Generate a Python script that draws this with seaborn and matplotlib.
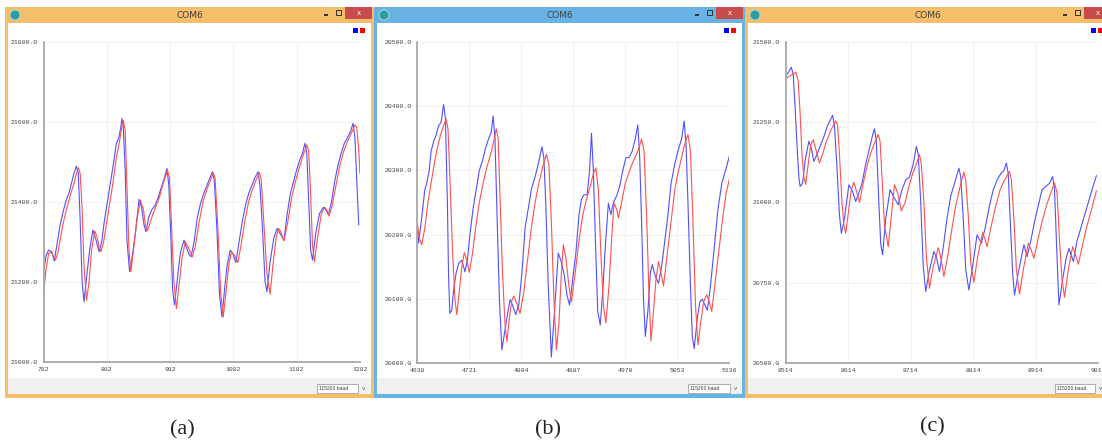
import matplotlib
matplotlib.use("Agg")
import matplotlib.pyplot as plt
from matplotlib.patches import Rectangle, Ellipse
import seaborn as sns

# ---------------- data ----------------
# panel (a)
a_x_blue = [782, 786, 790, 795, 799, 803, 808, 813, 818, 822, 826, 830, 834, 837, 840, 843, 846, 850, 855, 860,
            864, 868, 870, 874, 878, 883, 888, 893, 897, 901, 904, 906, 908, 911, 914, 918, 922, 927, 933, 937,
            941, 944, 948, 953, 958, 963, 968, 973, 977, 980, 983, 986, 989, 993, 998, 1004, 1008, 1012, 1015, 1020,
            1025, 1030, 1035, 1040, 1045, 1049, 1052, 1056, 1060, 1064, 1068, 1072, 1077, 1081, 1086, 1091, 1096, 1101, 1106, 1111,
            1116, 1121, 1124, 1128, 1132, 1135, 1140, 1146, 1151, 1156, 1162, 1167, 1172, 1177, 1182, 1187, 1191, 1195, 1198, 1201,
            1204, 1207, 1212, 1218, 1224, 1228, 1232, 1237, 1242, 1247, 1252, 1257, 1262, 1267, 1271, 1274, 1277, 1280]
a_y_blue = [21221, 21265, 21279, 21275, 21252, 21290, 21340, 21375, 21405, 21420, 21445, 21470, 21489, 21470, 21350, 21200, 21150, 21210, 21280, 21329,
            21310, 21285, 21275, 21300, 21350, 21400, 21450, 21500, 21545, 21560, 21585, 21608, 21590, 21480, 21300, 21225, 21260, 21320, 21406, 21385,
            21340, 21325, 21360, 21380, 21390, 21410, 21435, 21460, 21483, 21440, 21320, 21180, 21142, 21200, 21270, 21304, 21285, 21268, 21262, 21300,
            21360, 21395, 21420, 21440, 21460, 21475, 21450, 21330, 21170, 21112, 21180, 21240, 21279, 21270, 21248, 21300, 21350, 21390, 21420, 21440,
            21460, 21475, 21440, 21330, 21200, 21175, 21250, 21310, 21333, 21320, 21304, 21370, 21420, 21450, 21480, 21505, 21520, 21546, 21520, 21400,
            21280, 21254, 21320, 21370, 21386, 21380, 21367, 21400, 21450, 21490, 21520, 21545, 21560, 21575, 21596, 21560, 21450, 21342]
a_x_red = [782, 786, 790, 794, 798, 801, 805, 810, 815, 820, 825, 830, 834, 837, 840, 843, 846, 850, 854, 858,
           863, 867, 870, 873, 877, 882, 887, 892, 897, 902, 906, 908, 911, 914, 917, 920, 925, 930, 935, 940,
           943, 946, 950, 955, 960, 965, 970, 975, 978, 981, 984, 988, 992, 996, 1001, 1006, 1011, 1017, 1022, 1028,
           1034, 1040, 1046, 1050, 1053, 1057, 1062, 1066, 1070, 1075, 1079, 1084, 1089, 1094, 1100, 1106, 1112, 1118, 1123, 1126,
           1130, 1135, 1140, 1145, 1150, 1154, 1158, 1162, 1168, 1174, 1180, 1186, 1192, 1198, 1201, 1204, 1207, 1210, 1215, 1221,
           1226, 1230, 1233, 1238, 1244, 1250, 1256, 1262, 1268, 1274, 1277, 1280, 1282]
a_y_red = [21171, 21230, 21270, 21275, 21262, 21254, 21275, 21320, 21360, 21390, 21420, 21445, 21470, 21485, 21470, 21380, 21240, 21154, 21200, 21280,
           21327, 21310, 21285, 21275, 21300, 21350, 21400, 21450, 21510, 21550, 21590, 21603, 21580, 21430, 21280, 21225, 21290, 21360, 21404, 21380,
           21340, 21327, 21345, 21370, 21390, 21410, 21440, 21465, 21478, 21460, 21350, 21200, 21133, 21190, 21260, 21300, 21285, 21262, 21290, 21350,
           21400, 21430, 21455, 21472, 21460, 21350, 21170, 21112, 21170, 21245, 21275, 21265, 21248, 21290, 21350, 21400, 21430, 21455, 21473, 21455,
           21350, 21220, 21169, 21250, 21315, 21333, 21320, 21302, 21350, 21410, 21450, 21485, 21515, 21542, 21525, 21420, 21290, 21250, 21310, 21370,
           21386, 21378, 21364, 21390, 21440, 21490, 21525, 21550, 21570, 21592, 21585, 21530, 21470]
a_xticks = [782, 882, 982, 1082, 1182, 1282]
a_yticks = [21000, 21200, 21400, 21600, 21800]

# panel (b)
b_x_blue = [4638, 4640, 4643, 4646, 4650, 4653, 4657, 4660, 4664, 4668, 4672, 4676, 4680, 4683, 4686, 4688, 4690, 4693, 4696, 4700,
            4704, 4709, 4714, 4718, 4722, 4727, 4732, 4737, 4742, 4747, 4752, 4756, 4759, 4762, 4765, 4769, 4773, 4777, 4781, 4786,
            4790, 4795, 4800, 4805, 4810, 4815, 4820, 4826, 4831, 4837, 4840, 4843, 4847, 4852, 4857, 4863, 4867, 4872, 4877, 4881,
            4886, 4891, 4896, 4900, 4904, 4909, 4913, 4916, 4919, 4922, 4926, 4930, 4934, 4938, 4943, 4947, 4951, 4956, 4961, 4966,
            4971, 4976, 4981, 4986, 4990, 4993, 4996, 4999, 5002, 5006, 5010, 5013, 5018, 5023, 5028, 5033, 5038, 5043, 5049, 5054,
            5060, 5064, 5067, 5070, 5074, 5077, 5080, 5085, 5089, 5093, 5097, 5101, 5106, 5112, 5118, 5124, 5130, 5136]
b_y_blue = [20218, 20187, 20210, 20235, 20270, 20280, 20300, 20330, 20345, 20355, 20370, 20375, 20403, 20380, 20250, 20130, 20077, 20082, 20114, 20140,
            20155, 20160, 20142, 20160, 20200, 20240, 20270, 20300, 20315, 20335, 20350, 20360, 20385, 20350, 20240, 20100, 20020, 20045, 20070, 20098,
            20090, 20075, 20090, 20140, 20210, 20240, 20270, 20290, 20310, 20337, 20320, 20250, 20120, 20009, 20080, 20171, 20160, 20140, 20105, 20090,
            20130, 20170, 20230, 20255, 20262, 20262, 20300, 20358, 20300, 20200, 20080, 20059, 20110, 20180, 20249, 20231, 20250, 20260, 20275, 20300,
            20320, 20320, 20330, 20350, 20371, 20320, 20220, 20100, 20041, 20080, 20140, 20153, 20135, 20124, 20150, 20190, 20230, 20280, 20310, 20330,
            20350, 20377, 20340, 20250, 20120, 20040, 20022, 20070, 20095, 20099, 20090, 20082, 20120, 20180, 20240, 20280, 20300, 20322]
b_x_red = [4638, 4641, 4645, 4650, 4655, 4660, 4665, 4670, 4675, 4680, 4684, 4687, 4690, 4694, 4698, 4701, 4705, 4709, 4713, 4717,
           4721, 4726, 4731, 4737, 4743, 4749, 4755, 4760, 4764, 4767, 4770, 4774, 4778, 4781, 4785, 4789, 4792, 4797, 4802, 4808,
           4814, 4820, 4826, 4832, 4838, 4844, 4848, 4852, 4856, 4860, 4864, 4868, 4871, 4875, 4880, 4884, 4890, 4896, 4902, 4908,
           4914, 4919, 4923, 4927, 4931, 4935, 4939, 4944, 4948, 4952, 4956, 4959, 4964, 4970, 4977, 4983, 4990, 4996, 5000, 5004,
           5008, 5011, 5015, 5019, 5023, 5027, 5031, 5037, 5043, 5049, 5055, 5061, 5066, 5070, 5074, 5078, 5082, 5086, 5090, 5095,
           5100, 5104, 5108, 5114, 5120, 5126, 5131, 5137]
b_y_red = [20218, 20195, 20184, 20210, 20250, 20280, 20310, 20335, 20355, 20370, 20380, 20365, 20290, 20180, 20100, 20075, 20110, 20150, 20172, 20160,
           20141, 20170, 20210, 20250, 20280, 20305, 20325, 20345, 20365, 20350, 20260, 20140, 20060, 20033, 20070, 20098, 20104, 20092, 20077, 20110,
           20160, 20210, 20250, 20280, 20305, 20325, 20310, 20220, 20100, 20020, 20060, 20140, 20184, 20165, 20120, 20095, 20140, 20190, 20230, 20255,
           20275, 20295, 20304, 20270, 20170, 20090, 20062, 20120, 20190, 20249, 20240, 20226, 20250, 20280, 20300, 20315, 20330, 20349, 20330, 20230,
           20100, 20034, 20080, 20130, 20158, 20140, 20120, 20170, 20220, 20270, 20300, 20325, 20345, 20356, 20330, 20220, 20090, 20028, 20060, 20095,
           20106, 20095, 20080, 20130, 20180, 20230, 20265, 20290]
b_xticks = [4638, 4721, 4804, 4887, 4970, 5053, 5136]
b_yticks = [20000, 20100, 20200, 20300, 20400, 20500]

# panel (c)
c_x_blue = [8514, 8518, 8523, 8526, 8529, 8532, 8535, 8537, 8541, 8545, 8551, 8555, 8559, 8564, 8570, 8576, 8581, 8586, 8589, 8592,
            8596, 8600, 8603, 8608, 8615, 8620, 8626, 8631, 8636, 8642, 8648, 8653, 8656, 8659, 8663, 8666, 8669, 8674, 8681, 8686,
            8694, 8700, 8706, 8712, 8718, 8723, 8726, 8730, 8734, 8738, 8743, 8751, 8755, 8760, 8766, 8772, 8778, 8784, 8791, 8794,
            8798, 8802, 8807, 8813, 8820, 8827, 8833, 8840, 8846, 8852, 8858, 8863, 8867, 8870, 8873, 8877, 8880, 8886, 8895, 8900,
            8906, 8912, 8918, 8924, 8930, 8936, 8941, 8944, 8947, 8951, 8957, 8962, 8967, 8974, 8980, 8986, 8992, 8998, 9004, 9011]
c_y_blue = [21394, 21405, 21422, 21400, 21300, 21180, 21080, 21050, 21060, 21130, 21191, 21170, 21128, 21150, 21180, 21210, 21240, 21260, 21272, 21240,
            21110, 20960, 20904, 20950, 21055, 21040, 21003, 21030, 21060, 21120, 21170, 21210, 21230, 21190, 21000, 20870, 20837, 20950, 21040, 21020,
            20993, 21040, 21070, 21080, 21120, 21175, 21150, 21000, 20800, 20722, 20780, 20847, 20830, 20784, 20860, 20950, 21020, 21060, 21107, 21080,
            20950, 20790, 20727, 20800, 20899, 20873, 20920, 20990, 21040, 21070, 21090, 21100, 21123, 21090, 20950, 20780, 20711, 20780, 20868, 20831,
            20880, 20940, 20990, 21040, 21050, 21060, 21081, 21040, 20880, 20680, 20760, 20820, 20857, 20816, 20880, 20920, 20960, 21000, 21040, 21084]
c_x_red = [8514, 8520, 8526, 8530, 8534, 8537, 8540, 8543, 8546, 8550, 8554, 8558, 8563, 8568, 8573, 8579, 8585, 8590, 8594, 8597,
           8600, 8604, 8607, 8610, 8615, 8619, 8623, 8628, 8632, 8638, 8645, 8651, 8657, 8662, 8665, 8668, 8672, 8678, 8683, 8688,
           8693, 8699, 8705, 8711, 8717, 8723, 8728, 8731, 8735, 8739, 8744, 8750, 8758, 8762, 8767, 8773, 8780, 8786, 8793, 8799,
           8802, 8806, 8810, 8815, 8821, 8829, 8832, 8836, 8842, 8850, 8857, 8864, 8872, 8875, 8879, 8883, 8888, 8894, 8902, 8906,
           8911, 8917, 8924, 8931, 8938, 8944, 8948, 8952, 8956, 8960, 8966, 8973, 8977, 8982, 8988, 8995, 9002, 9011]
c_y_red = [21386, 21395, 21400, 21407, 21380, 21280, 21150, 21080, 21057, 21120, 21180, 21196, 21160, 21123, 21150, 21190, 21220, 21240, 21255, 21240,
           21150, 21000, 20930, 20904, 20980, 21040, 21063, 21030, 21000, 21060, 21120, 21160, 21190, 21212, 21190, 21080, 20930, 20862, 20960, 21055,
           21030, 20974, 21000, 21050, 21090, 21120, 21149, 21120, 21000, 20830, 20732, 20800, 20859, 20830, 20769, 20830, 20920, 20990, 21050, 21095,
           21070, 20960, 20810, 20751, 20830, 20907, 20890, 20862, 20920, 20990, 21040, 21070, 21097, 21070, 20950, 20790, 20714, 20790, 20873, 20855,
           20826, 20880, 20940, 20990, 21030, 21061, 21030, 20880, 20760, 20704, 20790, 20862, 20840, 20807, 20860, 20920, 20970, 21037]
c_xticks = [8514, 8614, 8714, 8814, 8914, 9014]
c_yticks = [20500, 20750, 21000, 21250, 21500]

captions = ["(a)", "(b)", "(c)"]
window_title = "COM6"
baud_label = "115200 baud"

# ---------------- figure ----------------
sns.set_style("white")
plt.rcParams["font.family"] = ["DejaVu Sans"]

W, H = 1102, 446
fig = plt.figure(figsize=(W / 100, H / 100), dpi=100)
fig.patch.set_facecolor("white")

ORANGE = "#F5BE6B"
BLUEW = "#69B3E4"
BLUE = "#5050FF"
RED = "#FF5050"


def rect(x0, y0, x1, y1, fc, ec="none", lw=0, z=0):
    fig.patches.append(Rectangle((x0 / W, 1 - y1 / H), (x1 - x0) / W, (y1 - y0) / H,
                                 transform=fig.transFigure, facecolor=fc, edgecolor=ec,
                                 linewidth=lw, zorder=z))


def ftext(x, y, s, **kw):
    fig.text(x / W, 1 - y / H, s, **kw)


def window(x0, x1, frame, title_x, close_x1, bottom=398):
    top = 7
    rect(x0, top, x1, bottom, frame)
    rect(x0 + 3, 23, x1 - 3, 378, "white", z=1)
    rect(x0 + 3, 378, x1 - 3, bottom - 4, "#F0F0F0", z=1)
    ftext(title_x, 15, window_title, ha="center", va="center", fontsize=6.5, color="#404040")
    fig.patches.append(Ellipse(((x0 + 10) / W, 1 - 15 / H), 10 / W, 10 / H, transform=fig.transFigure,
                               facecolor="#2E9BA0", edgecolor="#9AD6D6", lw=0.8, zorder=2))
    rect(close_x1 - 27, top, close_x1, 19, "#C84C4C", z=2)
    ftext(close_x1 - 13.5, 13, "x", ha="center", va="center", fontsize=5, color="white", zorder=3)
    rect(close_x1 - 36, 10, close_x1 - 31, 15, "none", ec="#333333", lw=0.7, z=2)
    rect(close_x1 - 48, 14.5, close_x1 - 44, 15.5, "#333333", z=2)


window(5, 374, ORANGE, 190, 372)
window(374, 745, BLUEW, 560, 743)
window(745, 1110, ORANGE, 928, 1111)

for bx in (353, 724, 1091):
    rect(bx, 28, bx + 5, 33, "#0000FF", z=3)
    rect(bx + 7, 28, bx + 12, 33, "#FF0000", z=3)

for bx0, bx1 in ((317, 358), (688, 730), (1055, 1095)):
    rect(bx0, 384, bx1, 393, "white", ec="#A0A0A0", lw=0.6, z=3)
    ftext(bx0 + 2, 388.5, baud_label, ha="left", va="center", fontsize=3.6, color="#333333",
          family="Liberation Sans", zorder=4)
    ftext(bx1 + 5, 389, "v", ha="center", va="center", fontsize=4, color="#555555", zorder=4)

panels = [
    (43.5, 360.0, 41.7, 361.7, a_x_blue, a_y_blue, a_x_red, a_y_red, a_xticks, a_yticks),
    (417.3, 729.3, 42.3, 362.7, b_x_blue, b_y_blue, b_x_red, b_y_red, b_xticks, b_yticks),
    (785.7, 1098.3, 42.3, 362.7, c_x_blue, c_y_blue, c_x_red, c_y_red, c_xticks, c_yticks),
]

for (l, r, t, b, xb, yb, xr, yr, xt, yt) in panels:
    ax = fig.add_axes([l / W, 1 - b / H, (r - l) / W, (b - t) / H], zorder=5)
    ax.patch.set_alpha(0)
    sns.lineplot(x=xb, y=yb, ax=ax, color=BLUE, linewidth=0.8, estimator=None, sort=False, legend=False)
    sns.lineplot(x=xr, y=yr, ax=ax, color=RED, linewidth=0.8, estimator=None, sort=False, legend=False)
    ax.set_xlim(xt[0], xt[-1])
    ax.set_ylim(yt[0], yt[-1])
    ax.set_xticks(xt)
    ax.set_yticks(yt)
    ax.set_xticklabels([str(v) for v in xt])
    ax.set_yticklabels(["%.1f" % v for v in yt])
    ax.set_xlabel("")
    ax.set_ylabel("")
    ax.grid(True, color="#F1F1F1", linewidth=0.8)
    ax.set_axisbelow(True)
    for s in ("top", "right"):
        ax.spines[s].set_visible(False)
    for s in ("left", "bottom"):
        ax.spines[s].set_color("#A8A8A8")
        ax.spines[s].set_linewidth(1.3)
    ax.tick_params(direction="inout", length=5, width=0.7, color="#777777",
                   labelsize=4.6, labelcolor="#444444", pad=1.5)
    for lab in ax.get_xticklabels() + ax.get_yticklabels():
        lab.set_family("Liberation Mono")

for cx, cy, s in ((182, 430, captions[0]), (548, 430, captions[1]), (932, 427, captions[2])):
    ftext(cx, cy, s, ha="center", va="center", fontsize=16, family="Liberation Serif", color="#222222")

fig.savefig("out.png", dpi=100)
